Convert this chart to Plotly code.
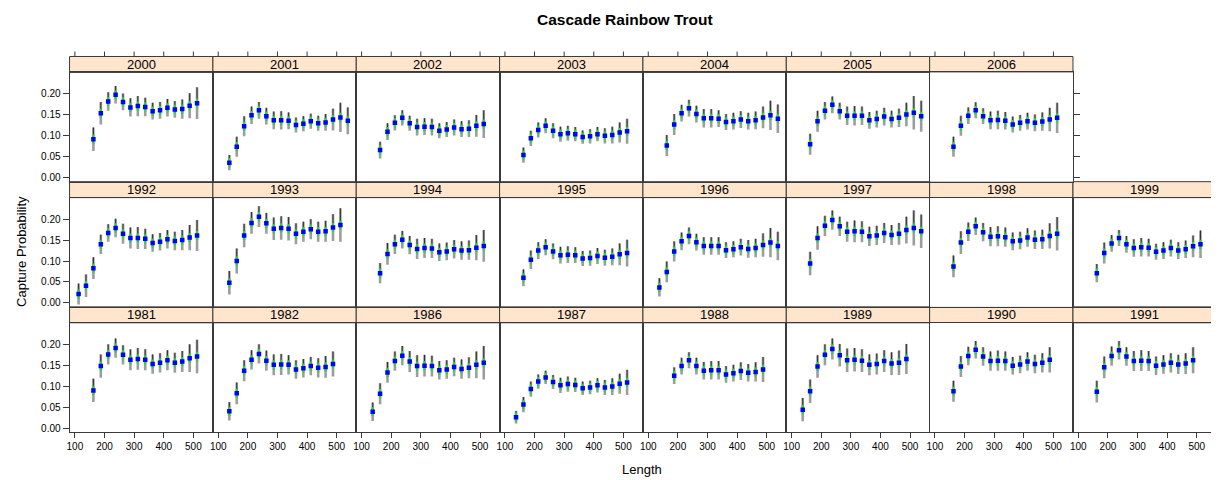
import plotly.graph_objects as go

# The page body has an 8px default margin, so the figure is drawn 8px in from
# the window corner; coordinates compensate for that.
WIN_W, WIN_H = 1219, 480
BODY_MARGIN = 8
FW, FH = WIN_W, WIN_H

# ---------------- data ----------------
LENGTH_BINS = [112.5, 137.5, 162.5, 187.5, 212.5, 237.5, 262.5, 287.5, 312.5,
               337.5, 362.5, 387.5, 412.5, 437.5, 462.5, 487.5, 512.5, 537.5]
X_TICKS = [100, 200, 300, 400, 500]
Y_TICKS = [0.00, 0.05, 0.10, 0.15, 0.20]
Y_TICK_TEXT = ["0.00", "0.05", "0.10", "0.15", "0.20"]

ROW_TOP = [2000, 2001, 2002, 2003, 2004, 2005, 2006]
ROW_MID = [1992, 1993, 1994, 1995, 1996, 1997, 1998, 1999]
ROW_BOT = [1981, 1982, 1986, 1987, 1988, 1989, 1990, 1991]

FIRST_LENGTH = {2000: 162.5, 2001: 137.5, 2002: 162.5, 2003: 162.5, 2004: 162.5,
                2005: 162.5, 2006: 162.5, 1992: 112.5, 1993: 137.5, 1994: 162.5,
                1995: 162.5, 1996: 137.5, 1997: 162.5, 1998: 162.5, 1999: 162.5,
                1981: 162.5, 1982: 137.5, 1986: 137.5, 1987: 137.5, 1988: 187.5,
                1989: 137.5, 1990: 162.5, 1991: 162.5}

est_2000 = [0.092, 0.154, 0.182, 0.198, 0.181, 0.168, 0.171, 0.169, 0.159, 0.161, 0.167, 0.163, 0.164, 0.172, 0.178]
est_2001 = [0.036, 0.074, 0.123, 0.149, 0.161, 0.147, 0.137, 0.137, 0.136, 0.126, 0.129, 0.135, 0.130, 0.132, 0.139, 0.144, 0.136]
est_2002 = [0.066, 0.110, 0.131, 0.143, 0.130, 0.121, 0.122, 0.121, 0.112, 0.115, 0.120, 0.116, 0.117, 0.124, 0.128]
est_2003 = [0.054, 0.094, 0.114, 0.124, 0.112, 0.104, 0.106, 0.104, 0.097, 0.099, 0.104, 0.100, 0.102, 0.108, 0.111]
est_2004 = [0.077, 0.127, 0.154, 0.166, 0.152, 0.142, 0.142, 0.141, 0.133, 0.135, 0.139, 0.135, 0.137, 0.144, 0.149, 0.141]
est_2005 = [0.080, 0.135, 0.160, 0.174, 0.159, 0.148, 0.148, 0.148, 0.137, 0.140, 0.146, 0.140, 0.143, 0.151, 0.155, 0.147]
est_2006 = [0.074, 0.124, 0.148, 0.161, 0.147, 0.137, 0.138, 0.136, 0.127, 0.131, 0.135, 0.131, 0.134, 0.139, 0.143]
est_1992 = [0.021, 0.041, 0.083, 0.140, 0.167, 0.179, 0.165, 0.155, 0.155, 0.153, 0.143, 0.146, 0.152, 0.148, 0.150, 0.156, 0.161]
est_1993 = [0.048, 0.100, 0.161, 0.191, 0.206, 0.190, 0.177, 0.179, 0.177, 0.165, 0.170, 0.176, 0.170, 0.171, 0.180, 0.186]
est_1994 = [0.071, 0.117, 0.140, 0.151, 0.138, 0.129, 0.131, 0.130, 0.121, 0.123, 0.128, 0.125, 0.126, 0.132, 0.136]
est_1995 = [0.060, 0.103, 0.125, 0.133, 0.123, 0.114, 0.115, 0.114, 0.106, 0.107, 0.112, 0.108, 0.110, 0.116, 0.119]
est_1996 = [0.037, 0.074, 0.123, 0.147, 0.160, 0.145, 0.136, 0.136, 0.136, 0.126, 0.128, 0.133, 0.129, 0.131, 0.138, 0.144, 0.136]
est_1997 = [0.094, 0.155, 0.184, 0.198, 0.183, 0.170, 0.171, 0.170, 0.159, 0.161, 0.167, 0.162, 0.165, 0.174, 0.179, 0.171]
est_1998 = [0.087, 0.144, 0.170, 0.183, 0.169, 0.158, 0.159, 0.157, 0.147, 0.149, 0.156, 0.151, 0.152, 0.160, 0.165]
est_1999 = [0.071, 0.119, 0.142, 0.155, 0.140, 0.131, 0.133, 0.132, 0.122, 0.125, 0.131, 0.125, 0.128, 0.135, 0.140]
est_1981 = [0.090, 0.148, 0.176, 0.191, 0.175, 0.163, 0.165, 0.163, 0.153, 0.156, 0.162, 0.156, 0.159, 0.167, 0.171]
est_1982 = [0.040, 0.083, 0.137, 0.163, 0.177, 0.161, 0.151, 0.152, 0.151, 0.140, 0.143, 0.148, 0.144, 0.146, 0.153]
est_1986 = [0.039, 0.082, 0.133, 0.160, 0.173, 0.159, 0.148, 0.149, 0.148, 0.138, 0.140, 0.146, 0.141, 0.144, 0.151, 0.156]
est_1987 = [0.026, 0.056, 0.093, 0.111, 0.121, 0.110, 0.102, 0.105, 0.103, 0.095, 0.097, 0.102, 0.097, 0.099, 0.106, 0.109]
est_1988 = [0.125, 0.148, 0.162, 0.148, 0.137, 0.138, 0.138, 0.128, 0.131, 0.136, 0.132, 0.134, 0.140]
est_1989 = [0.044, 0.088, 0.147, 0.175, 0.189, 0.174, 0.162, 0.163, 0.161, 0.151, 0.153, 0.160, 0.154, 0.156, 0.165]
est_1990 = [0.088, 0.147, 0.172, 0.187, 0.171, 0.160, 0.161, 0.160, 0.149, 0.152, 0.159, 0.153, 0.156, 0.163]
est_1991 = [0.087, 0.145, 0.172, 0.186, 0.171, 0.160, 0.161, 0.160, 0.149, 0.152, 0.156, 0.152, 0.154, 0.162]

hw_2000 = [0.028, 0.027, 0.022, 0.021, 0.020, 0.022, 0.024, 0.022, 0.020, 0.020, 0.021, 0.020, 0.023, 0.030, 0.038]
hw_2001 = [0.018, 0.024, 0.024, 0.021, 0.020, 0.020, 0.021, 0.022, 0.020, 0.018, 0.018, 0.018, 0.018, 0.020, 0.026, 0.035, 0.032]
hw_2002 = [0.020, 0.020, 0.018, 0.018, 0.018, 0.020, 0.020, 0.020, 0.018, 0.018, 0.019, 0.019, 0.020, 0.026, 0.033]
hw_2003 = [0.018, 0.018, 0.018, 0.018, 0.018, 0.018, 0.018, 0.017, 0.016, 0.017, 0.017, 0.018, 0.020, 0.024, 0.030]
hw_2004 = [0.025, 0.025, 0.020, 0.020, 0.020, 0.022, 0.022, 0.020, 0.019, 0.020, 0.020, 0.020, 0.021, 0.026, 0.035, 0.034]
hw_2005 = [0.025, 0.025, 0.021, 0.020, 0.020, 0.022, 0.023, 0.022, 0.020, 0.020, 0.021, 0.020, 0.022, 0.028, 0.040, 0.037]
hw_2006 = [0.024, 0.024, 0.020, 0.019, 0.019, 0.021, 0.022, 0.021, 0.019, 0.019, 0.020, 0.020, 0.022, 0.028, 0.036]
hw_1992 = [0.025, 0.027, 0.026, 0.023, 0.021, 0.022, 0.024, 0.025, 0.026, 0.024, 0.021, 0.021, 0.022, 0.022, 0.024, 0.030, 0.037]
hw_1993 = [0.028, 0.030, 0.028, 0.026, 0.025, 0.025, 0.027, 0.028, 0.028, 0.025, 0.024, 0.024, 0.024, 0.025, 0.032, 0.040]
hw_1994 = [0.024, 0.026, 0.023, 0.021, 0.022, 0.024, 0.024, 0.023, 0.021, 0.021, 0.022, 0.022, 0.023, 0.030, 0.038]
hw_1995 = [0.020, 0.022, 0.020, 0.019, 0.019, 0.020, 0.020, 0.019, 0.018, 0.018, 0.019, 0.019, 0.020, 0.026, 0.032]
hw_1996 = [0.022, 0.025, 0.024, 0.021, 0.020, 0.020, 0.021, 0.021, 0.021, 0.019, 0.019, 0.020, 0.021, 0.022, 0.028, 0.035, 0.034]
hw_1997 = [0.028, 0.028, 0.024, 0.023, 0.023, 0.024, 0.026, 0.025, 0.023, 0.023, 0.024, 0.024, 0.026, 0.032, 0.042, 0.040]
hw_1998 = [0.026, 0.027, 0.022, 0.021, 0.022, 0.023, 0.024, 0.023, 0.021, 0.021, 0.022, 0.022, 0.023, 0.030, 0.040]
hw_1999 = [0.022, 0.025, 0.020, 0.019, 0.020, 0.021, 0.022, 0.021, 0.019, 0.020, 0.020, 0.020, 0.021, 0.026, 0.033]
hw_1981 = [0.028, 0.028, 0.024, 0.023, 0.023, 0.025, 0.026, 0.025, 0.023, 0.023, 0.024, 0.024, 0.025, 0.033, 0.040]
hw_1982 = [0.022, 0.026, 0.025, 0.023, 0.023, 0.024, 0.025, 0.025, 0.023, 0.022, 0.022, 0.022, 0.023, 0.026, 0.030]
hw_1986 = [0.022, 0.025, 0.025, 0.023, 0.023, 0.025, 0.026, 0.026, 0.025, 0.022, 0.022, 0.022, 0.023, 0.025, 0.032, 0.040]
hw_1987 = [0.015, 0.018, 0.018, 0.017, 0.016, 0.017, 0.018, 0.018, 0.017, 0.016, 0.016, 0.017, 0.018, 0.020, 0.024, 0.030]
hw_1988 = [0.020, 0.020, 0.019, 0.020, 0.021, 0.022, 0.022, 0.020, 0.020, 0.021, 0.021, 0.023, 0.030]
hw_1989 = [0.028, 0.028, 0.027, 0.025, 0.025, 0.027, 0.028, 0.028, 0.027, 0.025, 0.025, 0.026, 0.027, 0.029, 0.036]
hw_1990 = [0.025, 0.025, 0.022, 0.021, 0.022, 0.023, 0.024, 0.023, 0.021, 0.021, 0.022, 0.022, 0.023, 0.030]
hw_1991 = [0.026, 0.026, 0.023, 0.022, 0.022, 0.024, 0.025, 0.024, 0.022, 0.022, 0.023, 0.023, 0.025, 0.031]

ESTIMATES = {2000: est_2000, 2001: est_2001, 2002: est_2002, 2003: est_2003, 2004: est_2004,
             2005: est_2005, 2006: est_2006, 1992: est_1992, 1993: est_1993, 1994: est_1994,
             1995: est_1995, 1996: est_1996, 1997: est_1997, 1998: est_1998, 1999: est_1999,
             1981: est_1981, 1982: est_1982, 1986: est_1986, 1987: est_1987, 1988: est_1988,
             1989: est_1989, 1990: est_1990, 1991: est_1991}
HALFWIDTHS = {2000: hw_2000, 2001: hw_2001, 2002: hw_2002, 2003: hw_2003, 2004: hw_2004,
              2005: hw_2005, 2006: hw_2006, 1992: hw_1992, 1993: hw_1993, 1994: hw_1994,
              1995: hw_1995, 1996: hw_1996, 1997: hw_1997, 1998: hw_1998, 1999: hw_1999,
              1981: hw_1981, 1982: hw_1982, 1986: hw_1986, 1987: hw_1987, 1988: hw_1988,
              1989: hw_1989, 1990: hw_1990, 1991: hw_1991}

# ---------------- layout geometry (window pixels) ----------------
PANEL_LEFT0 = 66.7
PANEL_W = 143.7
ROW_STRIP_TOP = [56.7, 182.4, 308.1]
STRIP_H = 16.0
PLOT_H = 109.7
TICK_LEN = 5
X_RANGE = [82, 566]
Y_RANGE = [-0.0095, 0.2515]
FONT = "Liberation Sans, Arial, Helvetica, sans-serif"
LINE_COL = "#3a3a3a"


def clamp(v):
    return max(0.0, min(1.0, v))


def px_x(px):
    return clamp((px - BODY_MARGIN) / FW)


def px_y(py):
    return clamp(1 - (py - BODY_MARGIN) / FH)


panels = []
for c, yr in enumerate(ROW_TOP):
    panels.append((yr, 0, c))
for c, yr in enumerate(ROW_MID):
    panels.append((yr, 1, c))
for c, yr in enumerate(ROW_BOT):
    panels.append((yr, 2, c))

fig = go.Figure()
shapes = []
annotations = []
layout_axes = {}

for i, (yr, r, c) in enumerate(panels):
    n = i + 1
    xs = "" if n == 1 else str(n)
    left = PANEL_LEFT0 + c * PANEL_W
    right = left + PANEL_W
    strip_top = ROW_STRIP_TOP[r]
    plot_top = strip_top + STRIP_H
    plot_bot = plot_top + PLOT_H

    est = ESTIMATES[yr]
    hw = HALFWIDTHS[yr]
    start = LENGTH_BINS.index(FIRST_LENGTH[yr])
    lens = LENGTH_BINS[start:start + len(est)]

    gx, gy, bx, by, grx, gry = [], [], [], [], [], []
    for L, e, h in zip(lens, est, hw):
        gx += [L, L, None]
        gy += [e - h, e + h, None]
        bx += [L, L, None]
        by += [e, e + h, None]
        grx += [L, L, None]
        gry += [e - 0.011, e + 0.011, None]

    common = dict(xaxis="x" + xs, yaxis="y" + xs, showlegend=False, hoverinfo="skip")
    fig.add_trace(go.Scatter(x=gx, y=gy, mode="lines",
                             line=dict(color="rgba(140,140,140,0.85)", width=2.6), **common))
    fig.add_trace(go.Scatter(x=bx, y=by, mode="lines",
                             line=dict(color="#222222", width=0.9), **common))
    fig.add_trace(go.Scatter(x=grx, y=gry, mode="lines",
                             line=dict(color="#22dd22", width=2.2), **common))
    fig.add_trace(go.Scatter(x=lens, y=est, mode="markers",
                             marker=dict(symbol="square", size=4.5, color="#0000ff",
                                         line=dict(width=0)), **common))

    bottom_row = (r == 2)
    xa = dict(domain=[px_x(left), px_x(right)], range=X_RANGE, anchor="y" + xs,
              showgrid=False, zeroline=False, showline=True, mirror=True,
              linecolor=LINE_COL, linewidth=1,
              tickvals=X_TICKS, ticks="outside" if bottom_row else "",
              ticklen=TICK_LEN, tickcolor=LINE_COL, showticklabels=bottom_row,
              tickfont=dict(family=FONT, size=10, color="#000"))
    right_col = (r == 0 and c == 6) or (r in (1, 2) and c == 7)
    left_col = (c == 0)
    ya = dict(domain=[px_y(plot_bot), px_y(plot_top)], range=Y_RANGE, anchor="x" + xs,
              showgrid=False, zeroline=False, showline=True, mirror=True,
              linecolor=LINE_COL, linewidth=1,
              tickvals=Y_TICKS, ticktext=Y_TICK_TEXT,
              ticks="outside" if (left_col or right_col) else "",
              side="right" if right_col else "left",
              ticklen=6, tickcolor=LINE_COL, showticklabels=left_col,
              tickfont=dict(family=FONT, size=10, color="#000"))
    layout_axes["xaxis" + xs] = xa
    layout_axes["yaxis" + xs] = ya

    # strip
    shapes.append(dict(type="rect", xref="paper", yref="paper",
                       x0=px_x(left), x1=px_x(right),
                       y0=px_y(plot_top), y1=px_y(strip_top),
                       fillcolor="#ffe5cc", line=dict(color=LINE_COL, width=1), layer="below"))
    annotations.append(dict(text=str(yr), xref="paper", yref="paper",
                            x=px_x((left + right) / 2), y=px_y(strip_top + STRIP_H / 2),
                            xanchor="center", yanchor="middle", showarrow=False,
                            font=dict(family=FONT, size=13, color="#000")))

    # top-axis tick marks above the strips of the first row
    if r == 0:
        for t in X_TICKS:
            tx = left + (t - X_RANGE[0]) / (X_RANGE[1] - X_RANGE[0]) * PANEL_W
            shapes.append(dict(type="line", xref="paper", yref="paper",
                               x0=px_x(tx), x1=px_x(tx),
                               y0=px_y(strip_top), y1=px_y(strip_top - TICK_LEN),
                               line=dict(color=LINE_COL, width=1)))

annotations.append(dict(text="<b>Cascade Rainbow Trout</b>", xref="paper", yref="paper",
                        x=px_x(624), y=px_y(20), xanchor="center", yanchor="middle",
                        showarrow=False, font=dict(family=FONT, size=15.5, color="#000")))
annotations.append(dict(text="Capture Probability", xref="paper", yref="paper",
                        x=px_x(19), y=px_y(252), xanchor="center", yanchor="middle",
                        textangle=-90, showarrow=False,
                        font=dict(family=FONT, size=13, color="#000")))
annotations.append(dict(text="Length", xref="paper", yref="paper",
                        x=px_x(641), y=px_y(471), xanchor="center", yanchor="middle",
                        showarrow=False, font=dict(family=FONT, size=13, color="#000")))

fig.update_layout(width=FW, height=FH, margin=dict(l=0, r=0, t=0, b=0),
                  paper_bgcolor="white", plot_bgcolor="white",
                  shapes=shapes, annotations=annotations, **layout_axes)

fig.write_html("out.html")
